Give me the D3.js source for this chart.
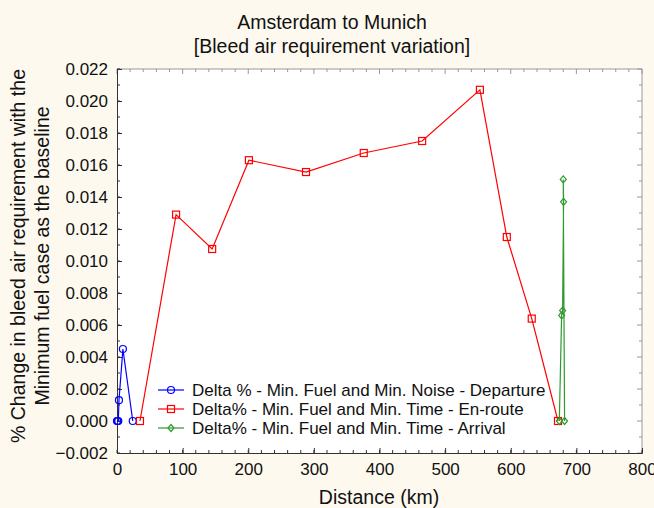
<!DOCTYPE html>
<html>
<head>
<meta charset="utf-8" />
<title>Amsterdam to Munich</title>
<style>
  body { margin: 0; background: #fdf9ef; }
  svg { display: block; font-family: "Liberation Sans", Arial, sans-serif; }
</style>
</head>
<body>
<script src="https://cdnjs.cloudflare.com/ajax/libs/d3/7.8.5/d3.min.js"></script>
<script>
// data
var departureKm = [0, 1, 2, 3, 9, 24];
var departureVal = [0, 0, 0, 0.0013, 0.0045, 0];

var enrouteKm = [35, 90, 145, 201, 288, 376, 465, 553, 594, 632, 672];
var enrouteVal = [0, 0.0129, 0.01075, 0.0163, 0.01556, 0.01675, 0.0175, 0.0207, 0.0115, 0.0064, 0];

var arrivalKm = [674, 677.5, 679, 680.5, 680, 682];
var arrivalVal = [0, 0.0066, 0.0069, 0.0137, 0.0151, 0];

var xTicks = [0, 100, 200, 300, 400, 500, 600, 700, 800];
var yTicks = [-0.002, 0, 0.002, 0.004, 0.006, 0.008, 0.010, 0.012, 0.014, 0.016, 0.018, 0.020, 0.022];

var seriesNames = [
  "Delta % - Min. Fuel and Min. Noise - Departure",
  "Delta% - Min. Fuel and Min. Time - En-route",
  "Delta% - Min. Fuel and Min. Time - Arrival"
];

var width = 654, height = 508;
var margin = {top: 69, right: 12, bottom: 55, left: 117};

var svg = d3.select('body').append('svg')
    .attr('width', width)
    .attr('height', height);

var x = d3.scaleLinear().domain([0, 800]).range([margin.left, width - margin.right]);
var y = d3.scaleLinear().domain([-0.002, 0.022]).range([height - margin.bottom, margin.top]);

var x0 = x.range()[0], x1 = x.range()[1], y0 = y.range()[0], y1 = y.range()[1];

svg.append('rect')
    .attr('x', x0).attr('y', y1)
    .attr('width', x1 - x0).attr('height', y0 - y1)
    .attr('fill', '#fff');

var minorX = d3.range(0, 801, 20);
var minorY = d3.range(-0.002, 0.02201, 0.001);

// mirrored ticks on top and right (light)
var mirror = svg.append('g').attr('stroke', '#999').attr('stroke-width', 1);
minorX.forEach(function(d) {
  var len = (d % 100 === 0) ? 5 : 3;
  mirror.append('line').attr('x1', x(d)).attr('x2', x(d)).attr('y1', y1).attr('y2', y1 + len);
});
minorY.forEach(function(d, i) {
  var len = (i % 2 === 0) ? 5 : 3;
  mirror.append('line').attr('x1', x1).attr('x2', x1 - len).attr('y1', y(d)).attr('y2', y(d));
});
mirror.append('path')
    .attr('d', 'M' + x0 + ',' + y1 + 'H' + x1 + 'V' + y0)
    .attr('fill', 'none');

// bottom axis
var xAxis = svg.append('g')
    .attr('transform', 'translate(0,' + y0 + ')')
    .call(d3.axisBottom(x).tickValues(xTicks).tickSize(-5).tickPadding(10).tickFormat(d3.format('d')));
xAxis.append('g').selectAll('line').data(minorX).enter().append('line')
    .attr('x1', function(d) { return x(d); }).attr('x2', function(d) { return x(d); })
    .attr('y1', 0).attr('y2', -3).attr('stroke', '#333');

// left axis
var yAxis = svg.append('g')
    .attr('transform', 'translate(' + x0 + ',0)')
    .call(d3.axisLeft(y).tickValues(yTicks).tickSize(-5).tickPadding(9).tickFormat(d3.format('.3f')));
yAxis.append('g').selectAll('line').data(minorY).enter().append('line')
    .attr('y1', function(d) { return y(d); }).attr('y2', function(d) { return y(d); })
    .attr('x1', 0).attr('x2', 3).attr('stroke', '#333');

[xAxis, yAxis].forEach(function(a) {
  a.select('.domain').attr('stroke', '#333');
  a.selectAll('.tick line').attr('stroke', '#333');
  a.selectAll('text').attr('font-size', 17).attr('fill', '#111')
      .attr('font-family', '"Liberation Sans", Arial, sans-serif');
});

// series
var series = [
  {km: departureKm, val: departureVal, color: '#0000ff', marker: 'circle'},
  {km: enrouteKm, val: enrouteVal, color: '#ff0000', marker: 'square'},
  {km: arrivalKm, val: arrivalVal, color: '#2e9a2e', marker: 'diamond'}
];

var line = d3.line()
    .x(function(d) { return x(d[0]); })
    .y(function(d) { return y(d[1]); });

function drawMarker(g, type, cx, cy, color) {
  if (type === 'circle') {
    g.append('circle').attr('cx', cx).attr('cy', cy).attr('r', 3.5)
        .attr('fill', 'none').attr('stroke', color).attr('stroke-width', 1.2);
  } else if (type === 'square') {
    g.append('rect').attr('x', cx - 3.5).attr('y', cy - 3.5).attr('width', 7).attr('height', 7)
        .attr('fill', 'none').attr('stroke', color).attr('stroke-width', 1.2);
  } else {
    g.append('path').attr('d', 'M' + cx + ',' + (cy - 3.5) + 'L' + (cx + 3) + ',' + cy + 'L' + cx + ',' + (cy + 3.5) + 'L' + (cx - 3) + ',' + cy + 'Z')
        .attr('fill', 'none').attr('stroke', color).attr('stroke-width', 1.2);
  }
}

series.forEach(function(s) {
  var pts = s.km.map(function(k, i) { return [k, s.val[i]]; });
  var g = svg.append('g');
  g.append('path').datum(pts)
      .attr('d', line)
      .attr('fill', 'none')
      .attr('stroke', s.color)
      .attr('stroke-width', 1.2);
  pts.forEach(function(p) { drawMarker(g, s.marker, x(p[0]), y(p[1]), s.color); });
});

// legend
var legend = svg.append('g');
series.forEach(function(s, i) {
  var ly = 390 + i * 19;
  legend.append('line').attr('x1', 158).attr('x2', 184).attr('y1', ly).attr('y2', ly)
      .attr('stroke', s.color).attr('stroke-width', 1.2);
  drawMarker(legend, s.marker, 171, ly, s.color);
  legend.append('text').attr('x', 192).attr('y', ly).attr('dy', '0.35em')
      .attr('font-size', 17).attr('fill', '#111').text(seriesNames[i]);
});

// titles
svg.append('text').attr('x', 332).attr('y', 29).attr('text-anchor', 'middle')
    .attr('font-size', 19.5).attr('fill', '#111').text('Amsterdam to Munich');
svg.append('text').attr('x', 332).attr('y', 53).attr('text-anchor', 'middle')
    .attr('font-size', 19.5).attr('fill', '#111').text('[Bleed air requirement variation]');

svg.append('text').attr('x', 379).attr('y', 504).attr('text-anchor', 'middle')
    .attr('font-size', 19.5).attr('fill', '#111').text('Distance (km)');

var yt = svg.append('text').attr('transform', 'translate(0,256) rotate(-90)')
    .attr('text-anchor', 'middle').attr('font-size', 19.5).attr('fill', '#111');
yt.append('tspan').attr('x', 0).attr('y', 25).text('% Change in bleed air requirement with the');
yt.append('tspan').attr('x', 0).attr('y', 49).text('Minimum fuel case as the baseline');
</script>
</body>
</html>
